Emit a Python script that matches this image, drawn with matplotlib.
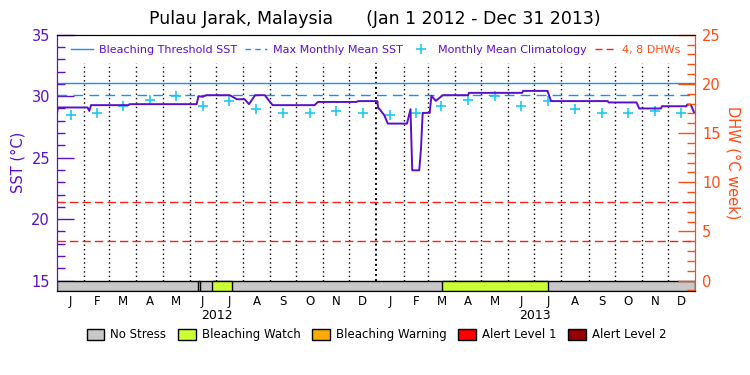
import numpy as np
import pandas as pd
import matplotlib
matplotlib.use('Agg')
import matplotlib.pyplot as plt
from matplotlib.lines import Line2D
from matplotlib.patches import Patch
from matplotlib.ticker import MultipleLocator

# data
start = pd.Timestamp('2012-01-01')
end = pd.Timestamp('2014-01-01')

sst_dates = ['2012-01-01', '2012-01-02', '2012-02-05', '2012-02-07', '2012-02-09',
             '2012-03-23', '2012-03-24', '2012-06-09', '2012-06-11', '2012-06-16',
             '2012-06-20', '2012-07-17', '2012-07-25', '2012-08-03', '2012-08-08',
             '2012-08-15', '2012-08-26', '2012-09-04', '2012-10-22', '2012-10-26',
             '2012-12-09', '2012-12-11', '2013-01-02', '2013-01-03', '2013-01-04',
             '2013-01-10', '2013-01-14', '2013-02-05', '2013-02-09', '2013-02-11',
             '2013-02-19', '2013-02-21', '2013-02-22', '2013-02-23', '2013-03-03',
             '2013-03-05', '2013-03-10', '2013-03-18', '2013-04-16', '2013-04-17',
             '2013-06-17', '2013-06-18', '2013-07-16', '2013-07-20', '2013-09-23',
             '2013-09-24', '2013-10-26', '2013-10-29', '2013-11-23', '2013-11-24',
             '2013-12-22', '2013-12-23', '2013-12-27', '2013-12-31']
sst_values = [28.6, 29.08, 29.08, 28.8, 29.27,
              29.27, 29.35, 29.35, 30.0, 29.95,
              30.08, 30.08, 29.75, 29.75, 29.35,
              30.08, 30.08, 29.27, 29.27, 29.53,
              29.53, 29.6, 29.6, 29.0, 29.0,
              28.45, 27.77, 27.77, 28.94, 23.97,
              23.97, 25.68, 27.23, 28.64, 28.64,
              30.03, 29.62, 30.08, 30.08, 30.27,
              30.27, 30.43, 30.43, 29.6, 29.6,
              29.49, 29.49, 29.0, 29.0, 29.18,
              29.18, 29.32, 29.32, 28.67]

# monthly mean climatology (Jan..Dec), same for both years
clim = [28.45, 28.67, 29.24, 29.65, 30.05, 29.21, 29.62, 28.92, 28.67, 28.67, 28.8, 28.67]
mmm = 30.06
threshold = 31.06
dhw_levels = [4, 8]

# stress level periods (start, end)
watch_periods = [('2012-06-10', '2012-06-13'), ('2012-06-27', '2012-07-19'),
                 ('2013-03-17', '2013-07-16')]

month_letters = ['J', 'F', 'M', 'A', 'M', 'J', 'J', 'A', 'S', 'O', 'N', 'D']
years = ['2012', '2013']

status_names = ['No Stress', 'Bleaching Watch', 'Bleaching Warning', 'Alert Level 1', 'Alert Level 2']
status_colors = ['#c8c8c8', '#ccff33', '#ffaa00', '#ff0000', '#960000']

purple = '#5a0fc8'
blue = '#1e8cf0'
cyan = '#1ec8f5'
orange = '#ff4a14'
red = '#ff1e1e'


def days(d):
    return (pd.to_datetime(d) - start) / pd.Timedelta(days=1)


sst_x = days(sst_dates)
month_starts = pd.date_range(start, end, freq='MS')
mid_x = [(days(a) + days(b)) / 2 for a, b in zip(month_starts[:-1], month_starts[1:])]
clim_y = clim * 2
total = days(end)

ymin, ymax = 14.18, 35

fig = plt.figure(figsize=(7.5, 3.75), dpi=100)
ax = fig.add_axes([0.076, 0.2248, 0.8507, 0.6827])
ax2 = ax.twinx()

# month separators
for m in month_starts[1:-1]:
    if m.month == 1:
        ax.plot([days(m), days(m)], [15, 32.7], color='black', lw=1.4,
                linestyle=(0, (1, 1.6)), zorder=1)
    else:
        ax.plot([days(m), days(m)], [15, 32.7], color='black', lw=1.0,
                linestyle=(0, (1, 2.2)), zorder=1)

ax.axhline(threshold, color=blue, lw=1.0, zorder=2)
ax.axhline(mmm, color=blue, lw=1.0, linestyle=(0, (7, 4.5)), zorder=2)
ax.plot(mid_x, clim_y, linestyle='none', marker='+', markersize=7,
        markeredgewidth=1.2, color=cyan, zorder=3)
ax.plot(sst_x, sst_values, color=purple, lw=1.4, zorder=4)

for lvl in dhw_levels:
    ax2.axhline(lvl, color=red, lw=1.0, linestyle=(0, (6, 3)))

# status bar
ax.broken_barh([(0, total)], (ymin, 15 - ymin), facecolor=status_colors[0],
               edgecolor='black', lw=1.0, zorder=5)
segs = [(days(a), days(b) - days(a)) for a, b in watch_periods]
ax.broken_barh(segs, (ymin, 15 - ymin), facecolor=status_colors[1],
               edgecolor='black', lw=1.0, zorder=6)

ax.set_xlim(0, total)
ax.set_ylim(ymin, ymax)
ax2.set_ylim((ymin - 15) * 1.25, (ymax - 15) * 1.25)

ax.set_yticks([15, 20, 25, 30, 35])
ax.yaxis.set_minor_locator(MultipleLocator(1))
ax.tick_params(axis='y', which='major', direction='in', length=12, width=1,
               colors=purple, labelsize=10.5, pad=5)
ax.tick_params(axis='y', which='minor', direction='in', length=6, width=1, colors=purple)
ax2.set_yticks([0, 5, 10, 15, 20, 25])
ax2.yaxis.set_minor_locator(MultipleLocator(1))
ax2.tick_params(axis='y', which='major', direction='in', length=12, width=1,
                colors=orange, labelsize=10.5, pad=5)
ax2.tick_params(axis='y', which='minor', direction='in', length=6, width=1, colors=orange)

ax.set_xticks(mid_x)
ax.set_xticklabels(month_letters * 2, fontsize=8.5)
ax.tick_params(axis='x', length=0, pad=3)

for a in (ax, ax2):
    a.spines['left'].set_color(purple)
    a.spines['right'].set_color(orange)
    a.spines['top'].set_color('black')
    a.spines['bottom'].set_color('black')

ax.set_ylabel('SST (°C)', color=purple, fontsize=10.5, labelpad=4)
ax2.set_ylabel('DHW (°C week)', color=orange, fontsize=10.5, rotation=270, labelpad=14)

for i, yr in enumerate(years):
    xc = days(f'{yr}-07-02')
    ax.annotate(yr, (xc, 0), xycoords=('data', 'axes fraction'), xytext=(0, -18),
                textcoords='offset points', ha='center', va='center', fontsize=9)

fig.text(0.5, 0.948, 'Pulau Jarak, Malaysia      (Jan 1 2012 - Dec 31 2013)',
         ha='center', va='center', fontsize=12.5)

# top legend
handles = [Line2D([], [], color=blue, lw=1.0),
           Line2D([], [], color=blue, lw=1.0, linestyle=(0, (4, 3))),
           Line2D([], [], color=cyan, marker='+', linestyle='none', markersize=7, markeredgewidth=1.2),
           Line2D([], [], color=red, lw=1.0, linestyle=(0, (5, 3)))]
labels = ['Bleaching Threshold SST', 'Max Monthly Mean SST', 'Monthly Mean Climatology', '4, 8 DHWs']
ax.legend(handles, labels, loc='upper center', bbox_to_anchor=(0.5, 1.0), ncol=4,
          frameon=False, fontsize=8, handlelength=2.0, columnspacing=0.7,
          handletextpad=0.5, labelcolor=[purple, purple, purple, orange])

# status legend
patches = [Patch(facecolor=c, edgecolor='black', lw=1.0) for c in status_colors]
fig.legend(patches, status_names, loc='center', bbox_to_anchor=(0.502, 0.107), ncol=5,
           frameon=False, fontsize=8.5, handlelength=1.5, handleheight=1.0,
           columnspacing=1.0, handletextpad=0.5)

fig.savefig('out.png', dpi=100)
